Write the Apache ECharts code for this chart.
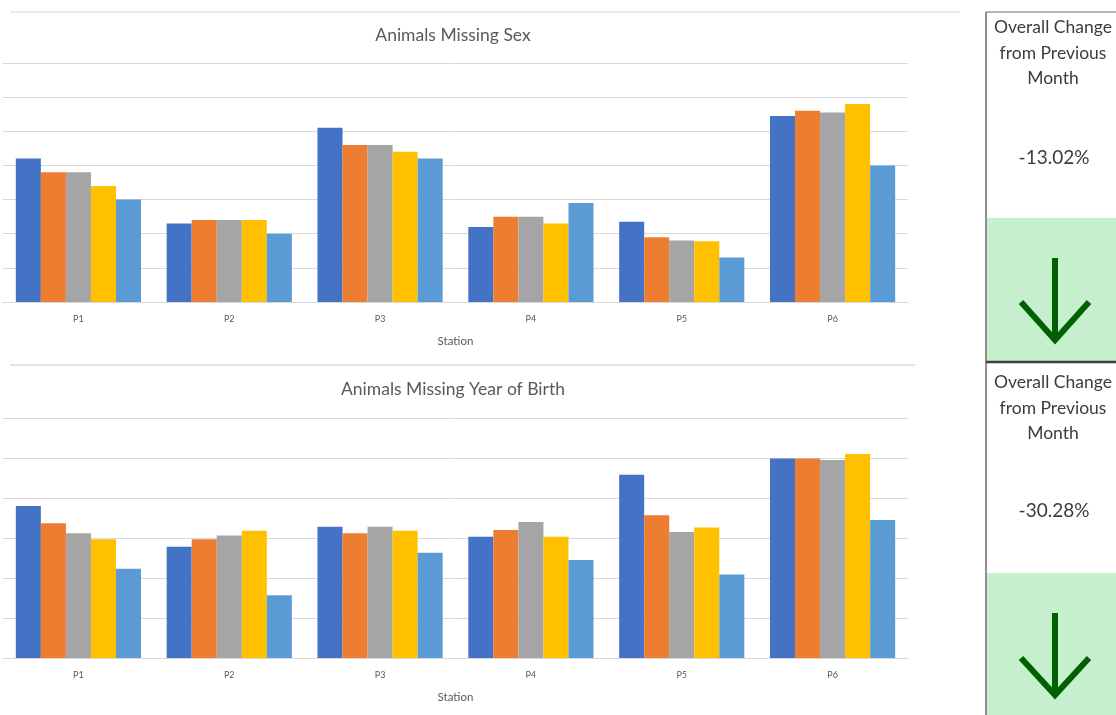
<!DOCTYPE html>
<html>
<head>
<meta charset="utf-8">
<script src="https://cdn.jsdelivr.net/npm/echarts@6/dist/echarts.min.js"></script>
<style>html,body{margin:0;padding:0;background:#fff;}#c{width:1116px;height:715px;}</style>
</head>
<body>
<div id="c"></div>
<script>
var stations = ['P1','P2','P3','P4','P5','P6'];
var seriesNames = ['Month 1','Month 2','Month 3','Month 4','Month 5'];
var seriesColors = ['#4472C4','#ED7D31','#A5A5A5','#FFC000','#5B9BD5'];

// Animals Missing Sex
var sex1 = [42, 23, 51, 22, 23.5, 54.5];
var sex2 = [38, 24, 46, 25, 19, 56];
var sex3 = [38, 24, 46, 25, 18, 55.5];
var sex4 = [34, 24, 44, 23, 17.8, 58];
var sex5 = [30, 20, 42, 29, 13, 40];

// Animals Missing Year of Birth
var yob1 = [38, 27.8, 32.8, 30.3, 45.8, 49.9];
var yob2 = [33.7, 29.7, 31.2, 32, 35.7, 49.9];
var yob3 = [31.2, 30.6, 32.8, 34, 31.5, 49.5];
var yob4 = [29.7, 31.8, 31.8, 30.3, 32.6, 51];
var yob5 = [22.3, 15.7, 26.3, 24.5, 20.9, 34.5];

var sexTitle = 'Animals Missing Sex';
var yobTitle = 'Animals Missing Year of Birth';
var changeLabel = 'Overall Change\nfrom Previous\nMonth';
var sexChange = '-13.02%';
var yobChange = '-30.28%';

var FONT = 'Lato, "Liberation Sans", sans-serif';
var sexData = [sex1, sex2, sex3, sex4, sex5];
var yobData = [yob1, yob2, yob3, yob4, yob5];

var series = [];
sexData.forEach(function (d, i) {
  series.push({ type: 'bar', name: seriesNames[i], xAxisIndex: 0, yAxisIndex: 0, data: d,
    itemStyle: { color: seriesColors[i] }, barGap: '0%', barCategoryGap: '17%' });
});
yobData.forEach(function (d, i) {
  series.push({ type: 'bar', name: seriesNames[i], xAxisIndex: 1, yAxisIndex: 1, data: d,
    itemStyle: { color: seriesColors[i] }, barGap: '0%', barCategoryGap: '17%' });
});

function xAx(gi) {
  return { type: 'category', gridIndex: gi, data: stations,
    axisTick: { show: false },
    axisLine: { lineStyle: { color: '#d9d9d9' } },
    axisLabel: { fontSize: 9, color: '#595959', margin: 13, fontFamily: FONT },
    name: 'Station', nameLocation: 'middle', nameGap: 33,
    nameTextStyle: { fontSize: 11.5, color: '#595959', fontFamily: FONT } };
}
function yAx(gi, max) {
  return { type: 'value', gridIndex: gi, min: 0, max: max, interval: 10,
    axisLabel: { show: false }, axisLine: { show: false }, axisTick: { show: false },
    splitLine: { lineStyle: { color: '#d9d9d9' } } };
}

function arrow(yTop, yTip, yHead) {
  return [
    { type: 'line', shape: { x1: 1055, y1: yTop, x2: 1055, y2: yTip - 3 },
      style: { stroke: '#006100', lineWidth: 6 } },
    { type: 'polyline', shape: { points: [[1021, yHead], [1055, yTip], [1089, yHead]] },
      style: { stroke: '#006100', lineWidth: 6, fill: null, lineJoin: 'miter' } }
  ];
}

var graphics = [
  { type: 'line', shape: { x1: 10, y1: 12, x2: 960, y2: 12 }, style: { stroke: '#e3e3e3', lineWidth: 1.5 } },
  { type: 'line', shape: { x1: 10, y1: 365, x2: 915, y2: 365 }, style: { stroke: '#e3e3e3', lineWidth: 2 } },
  { type: 'rect', shape: { x: 987, y: 218, width: 135, height: 144 }, style: { fill: '#c6efce' } },
  { type: 'rect', shape: { x: 987, y: 573, width: 135, height: 150 }, style: { fill: '#c6efce' } },
  { type: 'line', shape: { x1: 986, y1: 12, x2: 986, y2: 715 }, style: { stroke: '#6b6b6b', lineWidth: 1.5 } },
  { type: 'line', shape: { x1: 986, y1: 12, x2: 1116, y2: 12 }, style: { stroke: '#6b6b6b', lineWidth: 1 } },
  { type: 'line', shape: { x1: 986, y1: 362, x2: 1116, y2: 362 }, style: { stroke: '#3f3f3f', lineWidth: 2.5 } },
  { type: 'text', x: 1053, y: 15, style: { text: changeLabel, fontSize: 17.5, lineHeight: 25.5, fill: '#3c3c3c',
      align: 'center', verticalAlign: 'top', fontFamily: FONT } },
  { type: 'text', x: 1054, y: 158, style: { text: sexChange, fontSize: 19, fill: '#3c3c3c',
      align: 'center', verticalAlign: 'middle', fontFamily: FONT } },
  { type: 'text', x: 1053, y: 370, style: { text: changeLabel, fontSize: 17.5, lineHeight: 25.5, fill: '#3c3c3c',
      align: 'center', verticalAlign: 'top', fontFamily: FONT } },
  { type: 'text', x: 1054, y: 511, style: { text: yobChange, fontSize: 19, fill: '#3c3c3c',
      align: 'center', verticalAlign: 'middle', fontFamily: FONT } }
].concat(arrow(258, 340, 302)).concat(arrow(613, 695, 658));

var chart = echarts.init(document.getElementById('c'), null, { renderer: 'canvas' });
chart.setOption({
  animation: false,
  backgroundColor: '#ffffff',
  title: [
    { text: sexTitle, left: 448, top: 21, textAlign: 'center',
      textStyle: { fontSize: 17.5, fontWeight: 'normal', color: '#595959', fontFamily: FONT } },
    { text: yobTitle, left: 448, top: 375, textAlign: 'center',
      textStyle: { fontSize: 17.5, fontWeight: 'normal', color: '#595959', fontFamily: FONT } }
  ],
  grid: [
    { left: 3, right: 208, top: 63, height: 239 },
    { left: 3, right: 208, top: 418, height: 240 }
  ],
  xAxis: [xAx(0), xAx(1)],
  yAxis: [yAx(0, 70), yAx(1, 60)],
  series: series,
  graphic: graphics
});
</script>
</body>
</html>
